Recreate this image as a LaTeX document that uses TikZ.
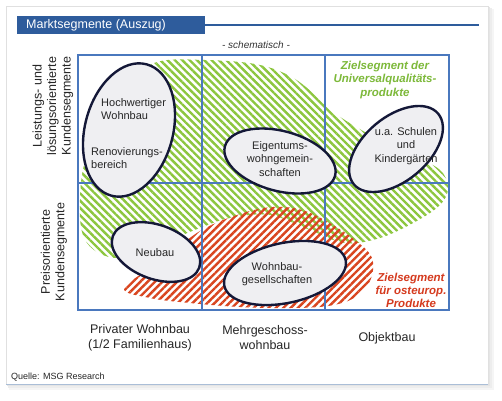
\documentclass[tikz,border=0pt]{standalone}
\usepackage{fontspec}
\setmainfont{Liberation Sans}
\usetikzlibrary{shapes.geometric,patterns.meta}
\definecolor{titleblue}{HTML}{2E5C9C}
\definecolor{gridblue}{HTML}{4A78BE}
\definecolor{hgreen}{HTML}{8CC63E}
\definecolor{tgreen}{HTML}{7DB93A}
\definecolor{hred}{HTML}{D9451F}
\definecolor{tred}{HTML}{D53A1E}
\definecolor{ellfill}{HTML}{EFEFF2}
\definecolor{elldraw}{HTML}{141838}
\tikzset{
  ell/.style={ellipse, draw=elldraw, fill=ellfill, line width=2.4pt, inner sep=0pt},
  etext/.style={font=\fontsize{11}{13.5}\selectfont, align=center, inner sep=0pt, text=black!85},
  axis/.style={font=\fontsize{12.5}{14.5}\selectfont, align=center, inner sep=0pt, text=black!85},
  gridline/.style={draw=gridblue, line width=1.1pt},
  greenhatch/.style={pattern={Lines[angle=-45,distance=5.2pt,line width=2.4pt]}, pattern color=hgreen},
  redhatch/.style={pattern={Lines[angle=45,distance=5.2pt,line width=2.4pt]}, pattern color=hred},
}
\begin{document}
\begin{tikzpicture}[x=1pt,y=-1pt]
\useasboundingbox (0,0) rectangle (502,400);
\fill[white] (0,0) rectangle (502,400);
% shadow and card
\fill[black!4] (9,9) rectangle (494,390);
\fill[black!7] (8,8) rectangle (492,388);
\fill[black!10] (7,7) rectangle (490,386);
\filldraw[fill=white, draw=black!12, line width=0.6pt] (6,6) rectangle (488,384);
\draw[color={rgb,255:red,170;green,190;blue,215}, line width=0.8pt] (6,384) -- (488,384);
% title
\node[fill=titleblue, minimum width=188pt, minimum height=18pt, inner sep=0pt, anchor=north west] (title) at (17,16) {};
\node[anchor=west, text=white, font=\fontsize{12.5}{14}\selectfont, inner sep=0pt] (titletext) at (26,25) {Marktsegmente (Auszug)};
\coordinate (tlend) at (479,24.5);
\draw[titleblue, line width=2pt] (title.east |- tlend) -- (tlend);
\node[font=\fontsize{10}{12}\selectfont\itshape, text=black!80, inner sep=0pt] (schem) at (256,45) {- schematisch -};
% hatched regions
\fill[greenhatch] plot[smooth cycle, tension=0.6] coordinates {
 (157,62) (205,60) (255,64) (288,75) (312,92) (333,112) (372,136) (412,155) (440,170) (448,188) (440,205) (415,222) (380,238) (345,243) (310,230) (270,215) (230,218) (200,228) (150,248) (118,258) (94,250) (82,232) (80,200) (84,165) (100,118) (125,84)};
\fill[redhatch] plot[smooth cycle, tension=0.6] coordinates {
 (124,288) (160,262) (200,231) (240,214) (273,207) (302,210) (328,222) (355,240) (372,258) (370,281) (354,298) (328,306) (290,308) (240,307) (190,303) (150,298)};
% grid
\draw[gridline] (78,55) rectangle (449,310);
\coordinate (v1t) at (202,55); \coordinate (v1b) at (202,310);
\coordinate (v2t) at (325,55); \coordinate (v2b) at (325,310);
\coordinate (hl) at (78,183); \coordinate (hr) at (449,183);
\draw[gridline] (v1t) -- (v1b);
\draw[gridline] (v2t) -- (v2b);
\draw[gridline] (hl) -- (hr);
% ellipses
\node[ell, minimum width=136pt, minimum height=88pt, rotate=75] (e1) at (129,130) {};
\node[ell, minimum width=114pt, minimum height=60pt, rotate=-15] (e2) at (280,161) {};
\node[ell, minimum width=110pt, minimum height=64pt, rotate=40] (e3) at (396,149) {};
\node[ell, minimum width=92pt, minimum height=54pt, rotate=-20] (e4) at (156,252) {};
\node[ell, minimum width=124pt, minimum height=60pt, rotate=12] (e5) at (285,273) {};
% ellipse texts
\node[etext, align=left, anchor=west] (t1a) at (101,109) {Hochwertiger\\Wohnbau};
\node[etext, align=left, anchor=west] (t1b) at (91,158) {Renovierungs-\\bereich};
\node[etext] (t2) at (280,159) {Eigentums-\\wohngemein-\\schaften};
\node[etext] (t3) at (406,146) {u.a. Schulen\\und\\Kindergärten};
\node[etext] (t4) at (155,253) {Neubau};
\node[etext] (t5) at (277,274) {Wohnbau-\\gesellschaften};
% target segment texts
\node[font=\fontsize{11.5}{13.5}\selectfont\bfseries\itshape, text=tgreen, align=center, inner sep=0pt] (zg) at (385,80) {Zielsegment der\\Universalqualitäts-\\produkte};
\node[font=\fontsize{11.5}{13}\selectfont\bfseries\itshape, text=tred, align=center, inner sep=0pt] (zr) at (411,290) {Zielsegment\\für osteurop.\\Produkte};
% axis labels
\node[axis, rotate=90] (ay1) at (53,106) {Leistungs- und\\lösungsorientierte\\Kundensegmente};
\node[axis, rotate=90] (ay2) at (54,252) {Preisorientierte\\Kundensegmente};
\node[axis, font=\fontsize{12.5}{15}\selectfont] (ax1) at (140,337.5) {Privater Wohnbau\\(1/2 Familienhaus)};
\node[axis, font=\fontsize{12.5}{15}\selectfont] (ax2) at (265,337.5) {Mehrgeschoss-\\wohnbau};
\node[axis] (ax3) at (387,338) {Objektbau};
\node[font=\fontsize{9}{11}\selectfont, anchor=west, inner sep=0pt, text=black!85] (src) at (11,377) {Quelle: MSG Research};
\end{tikzpicture}
\end{document}
